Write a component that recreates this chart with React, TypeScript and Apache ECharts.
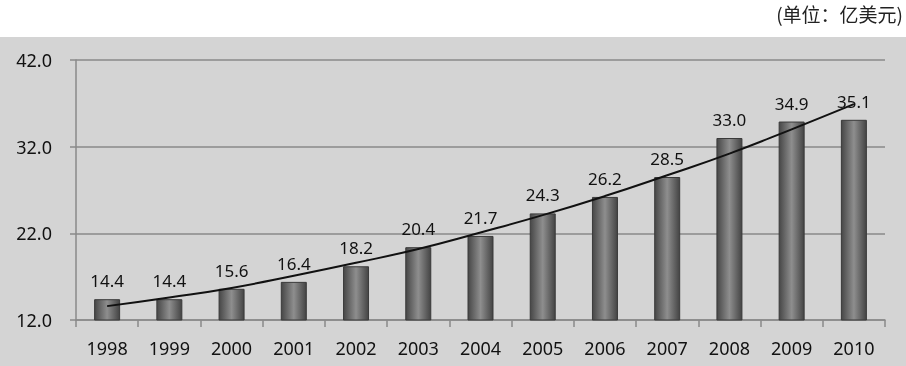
import React, { useEffect, useRef } from "react";
import * as echarts from "echarts";

const years = ["1998", "1999", "2000", "2001", "2002", "2003", "2004", "2005", "2006", "2007", "2008", "2009", "2010"];
const values = [14.4, 14.4, 15.6, 16.4, 18.2, 20.4, 21.7, 24.3, 26.2, 28.5, 33.0, 34.9, 35.1];
const trend = [13.6, 14.6, 15.7, 17.1, 18.6, 20.2, 22.1, 24.1, 26.3, 28.7, 31.2, 34.0, 36.9];
const unitLabel = "(单位：亿美元)";

export default function App() {
  const ref = useRef<HTMLDivElement>(null);
  useEffect(() => {
    if (!ref.current) return;
    const chart = echarts.init(ref.current, null, { renderer: "svg" });
    const font = "'Noto Sans', sans-serif";
    chart.setOption({
      animation: false,
      graphic: [
        { type: "rect", left: 0, top: 37, shape: { width: 906, height: 329 }, style: { fill: "#d4d4d4" }, z: -10 },
        {
          type: "text",
          right: 3,
          top: 4,
          style: { text: unitLabel, fontSize: 19, fill: "#222", fontFamily: "'Noto Sans CJK SC', sans-serif" },
        },
      ],
      grid: { left: 76, right: 21, top: 60, bottom: 46 },
      xAxis: {
        type: "category",
        data: years,
        boundaryGap: true,
        axisLine: { lineStyle: { color: "#8a8a8a", width: 1.5 } },
        axisTick: { show: true, length: 7, lineStyle: { color: "#8a8a8a", width: 1.5 } },
        axisLabel: { fontSize: 18, color: "#111", fontFamily: font, margin: 19 },
      },
      yAxis: {
        type: "value",
        min: 12,
        max: 42,
        interval: 10,
        axisLine: { show: true, lineStyle: { color: "#8a8a8a", width: 1.5 } },
        axisTick: { show: true, length: 6, lineStyle: { color: "#8a8a8a", width: 1.5 } },
        splitLine: { lineStyle: { color: "#8a8a8a", width: 1.5 } },
        axisLabel: {
          fontSize: 18,
          color: "#111",
          fontFamily: font,
          margin: 24,
          formatter: (v: number) => v.toFixed(1),
        },
      },
      series: [
        {
          type: "bar",
          data: values,
          barWidth: 26,
          itemStyle: {
            color: new echarts.graphic.LinearGradient(0, 0, 1, 0, [
              { offset: 0, color: "#474747" },
              { offset: 0.5, color: "#8e8e8e" },
              { offset: 1, color: "#444444" },
            ]),
            borderColor: "#3a3a3a",
            borderWidth: 1,
          },
          label: {
            show: true,
            position: "top",
            distance: 10,
            fontSize: 17,
            color: "#111",
            fontFamily: font,
            formatter: (p: any) => Number(p.value).toFixed(1),
          },
          z: 2,
        },
        {
          type: "line",
          data: trend,
          smooth: true,
          symbol: "none",
          lineStyle: { color: "#111", width: 2 },
          z: 5,
        },
      ],
    });
    return () => chart.dispose();
  }, []);
  return <div ref={ref} style={{ position: "fixed", left: 0, top: 0, width: 906, height: 366 }} />;
}
